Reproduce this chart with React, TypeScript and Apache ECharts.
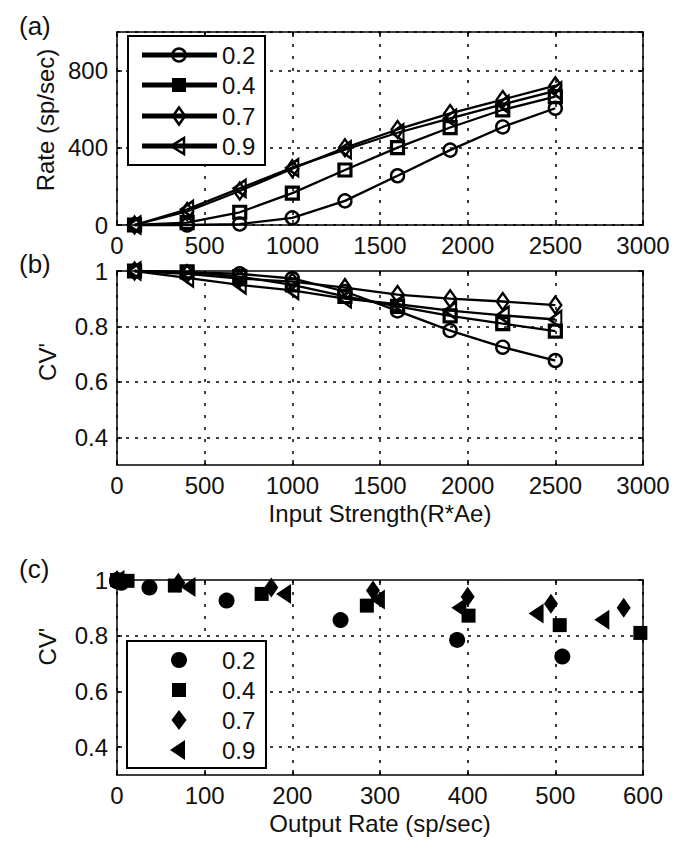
import React, { useEffect, useRef } from 'react';
import * as echarts from 'echarts';

// ---------- data ----------
const inputStrength = [100, 400, 700, 1000, 1300, 1600, 1900, 2200, 2500];
const seriesNames = ['0.2', '0.4', '0.7', '0.9'];

// output rate (sp/sec) for each input strength
const rate02 = [0, 0, 5, 37, 125, 255, 388, 508, 605];
const rate04 = [0, 12, 66, 165, 285, 401, 505, 597, 665];
const rate07 = [0, 70, 176, 292, 400, 495, 578, 650, 722];
const rate09 = [0, 81, 190, 297, 390, 478, 553, 625, 695];

// CV' for each input strength
const cv02 = [1, 0.995, 0.99, 0.973, 0.926, 0.856, 0.785, 0.725, 0.677];
const cv04 = [1, 0.997, 0.98, 0.95, 0.908, 0.872, 0.838, 0.81, 0.783];
const cv07 = [1, 0.99, 0.973, 0.962, 0.94, 0.915, 0.9, 0.89, 0.877];
const cv09 = [1, 0.975, 0.95, 0.93, 0.9, 0.88, 0.857, 0.84, 0.825];

const cvTicks = [0.4, 0.6, 0.8, 1];
const cvGridLines = [0.4, 0.6, 0.8];

const rates = [rate02, rate04, rate07, rate09];
const cvs = [cv02, cv04, cv07, cv09];

// ---------- styles ----------
const FONT = "'Liberation Sans', Arial, Helvetica, sans-serif";
const TXT = '#111';
const axisFont = { fontFamily: FONT, fontSize: 24, color: TXT };
const lineMarkers = [
  { symbol: 'circle', size: 13 as any, rotate: 0, bw: 2.4 },
  { symbol: 'rect', size: 12 as any, rotate: 0, bw: 3.2 },
  { symbol: 'diamond', size: [12, 17] as any, rotate: 0, bw: 2.4 },
  { symbol: 'triangle', size: [17, 12] as any, rotate: 90, bw: 2.4 },
];
const scatterMarkers = [
  { symbol: 'circle', size: 16 as any, rotate: 0 },
  { symbol: 'rect', size: 14 as any, rotate: 0 },
  { symbol: 'diamond', size: [14, 20] as any, rotate: 0 },
  { symbol: 'triangle', size: [20, 15] as any, rotate: 90 },
];

const GRID_LEFT = 117;
const GRID_W = 526;
const ZTOP = 100;

const plainNum = (v: number) => String(v);

function xAxisBottom(gridIndex: number, max: number, interval: number, name?: string) {
  return {
    type: 'value',
    gridIndex,
    position: 'bottom',
    min: 0,
    max,
    interval,
    name: name || '',
    nameLocation: 'middle',
    nameGap: 36,
    nameTextStyle: { ...axisFont },
    axisLine: { show: true, onZero: false, lineStyle: { color: '#000', width: 1.5 } },
    axisTick: { show: true, inside: true, length: 5, lineStyle: { color: '#000', width: 1.5 } },
    axisLabel: { ...axisFont, margin: 8, formatter: plainNum },
    splitLine: { show: true, lineStyle: { color: '#000', width: 1.5, type: [3, 9] } },
  };
}
function xAxisTop(gridIndex: number, max: number, interval: number) {
  return {
    type: 'value',
    gridIndex,
    position: 'top',
    min: 0,
    max,
    interval,
    axisLine: { show: true, onZero: false, lineStyle: { color: '#000', width: 1.5 } },
    axisTick: { show: true, inside: true, length: 5, lineStyle: { color: '#000', width: 1.5 } },
    axisLabel: { show: false },
    splitLine: { show: false },
  };
}
function cvAxis(gridIndex: number, position: string, name: string, namePad: number) {
  const left = position === 'left';
  return {
    type: 'value',
    gridIndex,
    position,
    min: 0.3,
    max: 1,
    name: left ? name : '',
    nameLocation: 'middle',
    nameGap: 58,
    nameTextStyle: { ...axisFont, padding: [0, 0, 0, namePad] },
    axisLine: { show: true, onZero: false, lineStyle: { color: '#000', width: 1.5 } },
    axisTick: {
      show: true,
      inside: true,
      length: 5,
      customValues: cvTicks,
      lineStyle: { color: '#000', width: 1.5 },
    },
    axisLabel: left
      ? { ...axisFont, margin: 9, customValues: cvTicks, formatter: plainNum }
      : { show: false },
    splitLine: { show: false },
  };
}

function buildOption() {
  const gridMarkLine = {
    silent: true,
    symbol: ['none', 'none'],
    label: { show: false },
    lineStyle: { color: '#000', width: 1.5, type: [3, 6], opacity: 1 },
    emphasis: { disabled: true },
    data: cvGridLines.map((v) => ({ yAxis: v })),
  };

  const lineSeries = (gridIdx: number, values: number[][]) =>
    seriesNames.map((name, i) => ({
      type: 'line',
      name,
      xAxisIndex: gridIdx,
      yAxisIndex: gridIdx,
      data: inputStrength.map((x, j) => [x, values[i][j]]),
      symbol: lineMarkers[i].symbol,
      symbolSize: lineMarkers[i].size,
      symbolRotate: lineMarkers[i].rotate,
      lineStyle: { color: '#000', width: 2.3 },
      itemStyle: {
        color: 'rgba(0,0,0,0)',
        borderColor: '#000',
        borderWidth: lineMarkers[i].bw,
        opacity: 1,
      },
      clip: false,
      z: 3,
      ...(gridIdx === 1 && i === 0 ? { markLine: gridMarkLine } : {}),
    }));

  const scatterSeries = seriesNames.map((name, i) => ({
    type: 'scatter',
    name,
    xAxisIndex: 2,
    yAxisIndex: 2,
    data: rates[i].map((r, j) => [r, cvs[i][j]]),
    symbol: scatterMarkers[i].symbol,
    symbolSize: scatterMarkers[i].size,
    symbolRotate: scatterMarkers[i].rotate,
    itemStyle: { color: '#000', opacity: 1 },
    clip: true,
    z: 3,
    ...(i === 0 ? { markLine: gridMarkLine } : {}),
  }));

  const legendText = (y: number, text: string) => ({
    type: 'text',
    z: ZTOP + 2,
    x: 222,
    y,
    style: {
      text,
      fontFamily: FONT,
      fontSize: 24,
      fill: TXT,
      textVerticalAlign: 'middle',
      verticalAlign: 'middle',
    },
  });

  // ---------- legends (drawn) ----------
  const legendA: any[] = [];
  const rowsA = [55, 85, 116, 146];
  legendA.push({
    type: 'rect',
    z: ZTOP,
    shape: { x: 128, y: 36, width: 137, height: 129 },
    style: { fill: '#fff', stroke: '#000', lineWidth: 2 },
  });
  rowsA.forEach((y, i) => {
    legendA.push({
      type: 'line',
      z: ZTOP + 1,
      shape: { x1: 142, y1: y, x2: 217, y2: y },
      style: { stroke: '#000', lineWidth: 5 },
    });
    const cx = 179;
    if (i === 0) {
      legendA.push({
        type: 'circle',
        z: ZTOP + 2,
        shape: { cx, cy: y, r: 6.5 },
        style: { fill: 'none', stroke: '#000', lineWidth: 2.5 },
      });
    } else if (i === 1) {
      legendA.push({
        type: 'rect',
        z: ZTOP + 2,
        shape: { x: cx - 7, y: y - 7, width: 14, height: 14 },
        style: { fill: '#000' },
      });
    } else if (i === 2) {
      legendA.push({
        type: 'polygon',
        z: ZTOP + 2,
        shape: { points: [[cx, y - 8.5], [cx + 6, y], [cx, y + 8.5], [cx - 6, y]] },
        style: { fill: 'none', stroke: '#000', lineWidth: 2.5 },
      });
    } else {
      legendA.push({
        type: 'polygon',
        z: ZTOP + 2,
        shape: { points: [[cx - 8, y], [cx + 5, y - 8], [cx + 5, y + 8]] },
        style: { fill: 'none', stroke: '#000', lineWidth: 2.5 },
      });
    }
    legendA.push(legendText(y, seriesNames[i]));
  });

  const legendC: any[] = [];
  const rowsC = [660, 690, 720, 750];
  legendC.push({
    type: 'rect',
    z: ZTOP,
    shape: { x: 127, y: 641, width: 139, height: 127 },
    style: { fill: '#fff', stroke: '#000', lineWidth: 2 },
  });
  rowsC.forEach((y, i) => {
    const cx = 179;
    if (i === 0) {
      legendC.push({ type: 'circle', z: ZTOP + 2, shape: { cx, cy: y, r: 8 }, style: { fill: '#000' } });
    } else if (i === 1) {
      legendC.push({
        type: 'rect',
        z: ZTOP + 2,
        shape: { x: cx - 7, y: y - 7, width: 14, height: 14 },
        style: { fill: '#000' },
      });
    } else if (i === 2) {
      legendC.push({
        type: 'polygon',
        z: ZTOP + 2,
        shape: { points: [[cx, y - 10], [cx + 7.5, y], [cx, y + 10], [cx - 7.5, y]] },
        style: { fill: '#000' },
      });
    } else {
      legendC.push({
        type: 'polygon',
        z: ZTOP + 2,
        shape: { points: [[cx - 9, y], [cx + 6, y - 10], [cx + 6, y + 10]] },
        style: { fill: '#000' },
      });
    }
    legendC.push(legendText(y, seriesNames[i]));
  });

  const panelLabel = (text: string, y: number) => ({
    type: 'text',
    z: ZTOP,
    x: 19,
    y,
    style: {
      text,
      fontFamily: FONT,
      fontSize: 26,
      fill: TXT,
      textVerticalAlign: 'middle',
      verticalAlign: 'middle',
    },
  });

  return {
    animation: false,
    backgroundColor: '#fff',
    grid: [
      { left: GRID_LEFT, top: 32, width: GRID_W, height: 193 },
      { left: GRID_LEFT, top: 271, width: GRID_W, height: 194 },
      { left: GRID_LEFT, top: 580, width: GRID_W, height: 195 },
    ],
    xAxis: [
      xAxisBottom(0, 3000, 500),
      xAxisBottom(1, 3000, 500, 'Input Strength(R*Ae)'),
      xAxisBottom(2, 600, 100, 'Output Rate (sp/sec)'),
      xAxisTop(0, 3000, 500),
      xAxisTop(1, 3000, 500),
      xAxisTop(2, 600, 100),
    ],
    yAxis: [
      {
        type: 'value',
        gridIndex: 0,
        position: 'left',
        min: 0,
        max: 1000,
        interval: 400,
        name: 'Rate (sp/sec)',
        nameLocation: 'middle',
        nameGap: 57,
        nameTextStyle: { ...axisFont, padding: [0, 0, 0, 17] },
        axisLine: { show: true, onZero: false, lineStyle: { color: '#000', width: 1.5 } },
        axisTick: { show: true, inside: true, length: 5, lineStyle: { color: '#000', width: 1.5 } },
        axisLabel: { ...axisFont, margin: 9, showMaxLabel: false, formatter: plainNum },
        splitLine: { show: true, lineStyle: { color: '#000', width: 1.5, type: [3, 6] } },
      },
      cvAxis(1, 'left', "CV'", 12),
      cvAxis(2, 'left', "CV'", 62),
      {
        type: 'value',
        gridIndex: 0,
        position: 'right',
        min: 0,
        max: 1000,
        interval: 400,
        axisLine: { show: true, onZero: false, lineStyle: { color: '#000', width: 1.5 } },
        axisTick: { show: true, inside: true, length: 5, lineStyle: { color: '#000', width: 1.5 } },
        axisLabel: { show: false },
        splitLine: { show: false },
      },
      cvAxis(1, 'right', '', 0),
      cvAxis(2, 'right', '', 0),
    ],
    series: [...lineSeries(0, rates), ...lineSeries(1, cvs), ...scatterSeries],
    graphic: [...legendA, ...legendC, panelLabel('(a)', 26), panelLabel('(b)', 264), panelLabel('(c)', 569)],
  };
}

export default function App() {
  const ref = useRef<HTMLDivElement>(null);
  useEffect(() => {
    if (!ref.current) return;
    const chart = echarts.init(ref.current, null, { renderer: 'svg' });
    chart.setOption(buildOption() as any);
    return () => chart.dispose();
  }, []);
  return (
    <div
      ref={ref}
      style={{ position: 'absolute', left: 0, top: 0, width: 682, height: 856, background: '#fff' }}
    />
  );
}
